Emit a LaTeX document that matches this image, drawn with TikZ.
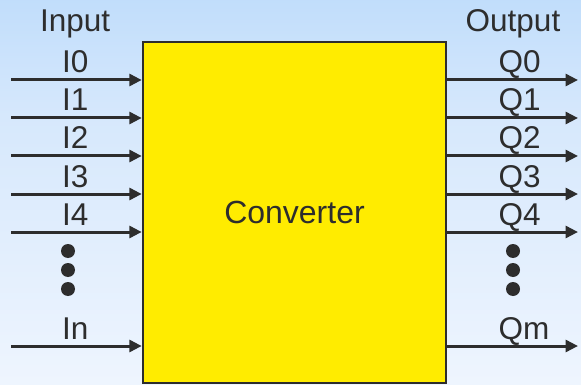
\documentclass[tikz,border=0pt]{standalone}
\usepackage{fontspec}
\setmainfont{Liberation Sans}
\usetikzlibrary{arrows.meta}
\definecolor{bgtop}{RGB}{158,204,250}
\definecolor{bgmid}{RGB}{214,232,252}
\definecolor{bgwhite}{RGB}{246,249,255}
\definecolor{bgbot}{RGB}{236,243,253}
\definecolor{ink}{RGB}{45,45,45}
\definecolor{convy}{RGB}{255,236,0}
\pgfdeclareverticalshading{bgshade}{100bp}{color(0bp)=(bgbot); color(14bp)=(bgwhite); color(60bp)=(bgmid); color(100bp)=(bgtop)}
\tikzset{
  sig/.style={line width=3pt, draw=ink, -{Triangle[length=12.5pt,width=12pt]}},
  lbl/.style={anchor=base west, inner sep=0pt, text=ink, font=\fontsize{31.5}{31.5}\selectfont},
  dotmark/.style={circle, fill=ink, inner sep=0pt, minimum size=14pt},
  convbox/.style={draw=ink, line width=2.5pt, fill=convy, inner sep=0pt, text=ink,
    minimum width=303pt, minimum height=341pt, font=\fontsize{32}{32}\selectfont}
}
\begin{document}
\begin{tikzpicture}[x=1pt,y=-1pt]
\useasboundingbox (0,0) rectangle (581,385);
\shade[shading=bgshade] (0,0) rectangle (581,385);
\node[convbox] (conv) at (294.5,212.5) {Converter};
% headers
\node[lbl] (hin) at (40,32) {Input};
\node[lbl] (hout) at (465.5,32) {Output};
% inputs
\foreach \i/\y/\t in {0/80/I0,1/118/I1,2/156/I2,3/194/I3,4/232/I4,5/346/In}{
  \coordinate (ia\i) at (11,\y);
  \draw[sig] (ia\i) -- (ia\i -| conv.west);
  \node[lbl] (il\i) at (62,\y-7) {\t};
}
\foreach \i/\y/\t in {0/80/Q0,1/118/Q1,2/156/Q2,3/194/Q3,4/232/Q4,5/346/Qm}{
  \coordinate (oa\i) at (578,\y);
  \draw[sig] (oa\i -| conv.east) -- (oa\i);
  \node[lbl] (ol\i) at (498.5,\y-7) {\t};
}
% dots
\node[dotmark] (id1) at (68,251) {};
\node[dotmark] (id2) at (68,270) {};
\node[dotmark] (id3) at (68,289) {};
\node[dotmark] (od1) at (513,251) {};
\node[dotmark] (od2) at (513,270) {};
\node[dotmark] (od3) at (513,289) {};
\end{tikzpicture}
\end{document}
